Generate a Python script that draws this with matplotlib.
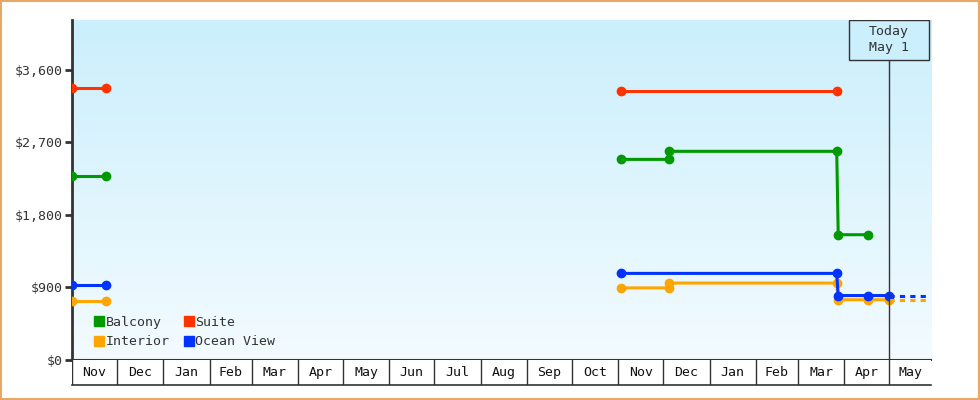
import numpy as np
import pandas as pd
import matplotlib
matplotlib.use('Agg')
import matplotlib.pyplot as plt
import matplotlib.dates as mdates
from matplotlib.patches import Rectangle

plt.rcParams['font.family'] = ['DejaVu Sans Mono']

# first sailing (left block)
dates_a = ['2020-11-01', '2020-11-24']
suite_a = [3375, 3375]
balcony_a = [2280, 2280]
ocean_a = [928, 928]
interior_a = [735, 735]

# second sailing (right block)
suite_b_dates = ['2021-11-03', '2022-03-27']
suite_b = [3340, 3340]
balcony_b_dates = ['2021-11-03', '2021-12-05', '2021-12-05', '2022-03-27', '2022-03-28', '2022-04-17']
balcony_b = [2490, 2490, 2590, 2590, 1555, 1555]
ocean_b_dates = ['2021-11-03', '2022-03-27', '2022-03-28', '2022-04-17', '2022-05-01']
ocean_b = [1075, 1075, 800, 800, 800]
interior_b_dates = ['2021-11-03', '2021-12-05', '2021-12-05', '2022-03-27', '2022-03-28', '2022-04-17', '2022-05-01']
interior_b = [895, 895, 955, 955, 748, 748, 748]

today = '2022-05-01'
today_label = 'Today\nMay 1'
axis_start = '2020-11-01'
axis_end = '2022-05-29'

month_starts = ['2020-11-01', '2020-12-01', '2021-01-01', '2021-02-01', '2021-03-01', '2021-04-01',
                '2021-05-01', '2021-06-01', '2021-07-01', '2021-08-01', '2021-09-01', '2021-10-01',
                '2021-11-01', '2021-12-01', '2022-01-01', '2022-02-01', '2022-03-01', '2022-04-01',
                '2022-05-01']
month_labels = ['Nov', 'Dec', 'Jan', 'Feb', 'Mar', 'Apr', 'May', 'Jun', 'Jul', 'Aug', 'Sep', 'Oct',
                'Nov', 'Dec', 'Jan', 'Feb', 'Mar', 'Apr', 'May']

y_ticks = [0, 900, 1800, 2700, 3600]
y_max = 4220

c_balcony = '#009900'
c_suite = '#ff3300'
c_interior = '#ffa500'
c_ocean = '#0033ff'
dark = '#333333'

fig = plt.figure(figsize=(9.8, 4), dpi=100)
left, right = 72 / 980, 931 / 980
ax = fig.add_axes([left, 0.1, right - left, 0.85])
strip = fig.add_axes([left, 0.0375, right - left, 0.0625], sharex=ax)

# gradient background
grad = np.linspace(0, 1, 256).reshape(-1, 1)
top_c = np.array([203, 239, 252]) / 255
bot_c = np.array([243, 251, 255]) / 255
img = top_c + (bot_c - top_c) * grad
ax.imshow(img.reshape(256, 1, 3), extent=[0, 1, 0, 1], transform=ax.transAxes,
          aspect='auto', zorder=0, interpolation='bilinear')

to_d = pd.to_datetime
lw = 2.2
ms = 6

def draw(dates, vals, color):
    ax.plot(to_d(dates), vals, color=color, lw=lw, marker='o', ms=ms, zorder=3,
            solid_joinstyle='miter')

draw(dates_a, suite_a, c_suite)
draw(suite_b_dates, suite_b, c_suite)
draw(dates_a, balcony_a, c_balcony)
draw(balcony_b_dates, balcony_b, c_balcony)
draw(dates_a, interior_a, c_interior)
draw(interior_b_dates, interior_b, c_interior)
draw(dates_a, ocean_a, c_ocean)
draw(ocean_b_dates, ocean_b, c_ocean)

# dashed projection past today
for vals, color in [(interior_b, c_interior), (ocean_b, c_ocean)]:
    ax.plot(to_d([today, axis_end]), [vals[-1], vals[-1]], color=color, lw=lw,
            dashes=(1.7, 1.7), zorder=3)

ax.set_xlim(to_d(axis_start), to_d(axis_end))
ax.set_ylim(0, y_max)

# today marker
box_top = 1.0
box_bot = (360 - 60) / 340
ax.plot(to_d([today, today]), [0, box_bot], transform=ax.get_xaxis_transform(),
        color=dark, lw=1, zorder=4)
half = pd.Timedelta(days=26.7)
t0 = mdates.date2num(to_d(today) - half)
t1 = mdates.date2num(to_d(today) + half)
ax.add_patch(Rectangle((t0, box_bot), t1 - t0, box_top - box_bot,
                       transform=ax.get_xaxis_transform(), facecolor='#cbeffc',
                       edgecolor=dark, lw=1, zorder=5))
ax.text(to_d(today), (box_top + box_bot) / 2, today_label, transform=ax.get_xaxis_transform(),
        ha='center', va='center', fontsize=9.5, color=dark, zorder=6, linespacing=1.3)

# axes styling
ax.set_yticks(y_ticks)
ax.set_yticklabels(['$' + format(v, ',') for v in y_ticks])
ax.tick_params(axis='y', length=5, width=2, color=dark, labelcolor=dark, labelsize=9.5, pad=2)
ax.tick_params(axis='x', bottom=False, labelbottom=False)
for s in ['top', 'right']:
    ax.spines[s].set_visible(False)
ax.spines['left'].set_color(dark)
ax.spines['left'].set_linewidth(2)
ax.spines['bottom'].set_color(dark)
ax.spines['bottom'].set_linewidth(1.5)

# legend
handles = [plt.Line2D([], [], ls='none', marker='s', ms=7.5, color=c)
           for c in [c_balcony, c_interior, c_suite, c_ocean]]
ax.legend(handles, ['Balcony', 'Interior', 'Suite', 'Ocean View'], ncol=2,
          loc='lower left', bbox_to_anchor=(0.012, 0.0), frameon=False, fontsize=9.5,
          handlelength=0.8, handletextpad=0.1, columnspacing=1.0, labelspacing=0.5,
          labelcolor=dark)

# month strip
ms_dates = to_d(month_starts)
for d in ms_dates:
    strip.axvline(d, color=dark, lw=1)
mids = list(ms_dates[1:]) + [to_d(axis_end)]
for d0, d1, lab in zip(ms_dates, mids, month_labels):
    strip.text(d0 + (d1 - d0) / 2, 0.5, lab, ha='center', va='center', fontsize=9.5, color='#111111')
strip.set_ylim(0, 1)
strip.set_yticks([])
strip.tick_params(axis='x', bottom=False, labelbottom=False)
for s in ['top', 'right', 'left']:
    strip.spines[s].set_visible(False)
strip.spines['bottom'].set_color(dark)
strip.spines['bottom'].set_linewidth(1.2)
strip.set_facecolor('white')

fig.add_artist(Rectangle((0.001, 0.002), 0.998, 0.996, transform=fig.transFigure,
                         fill=False, edgecolor='#e8a865', lw=1.5))

fig.savefig('out.png', dpi=100)
